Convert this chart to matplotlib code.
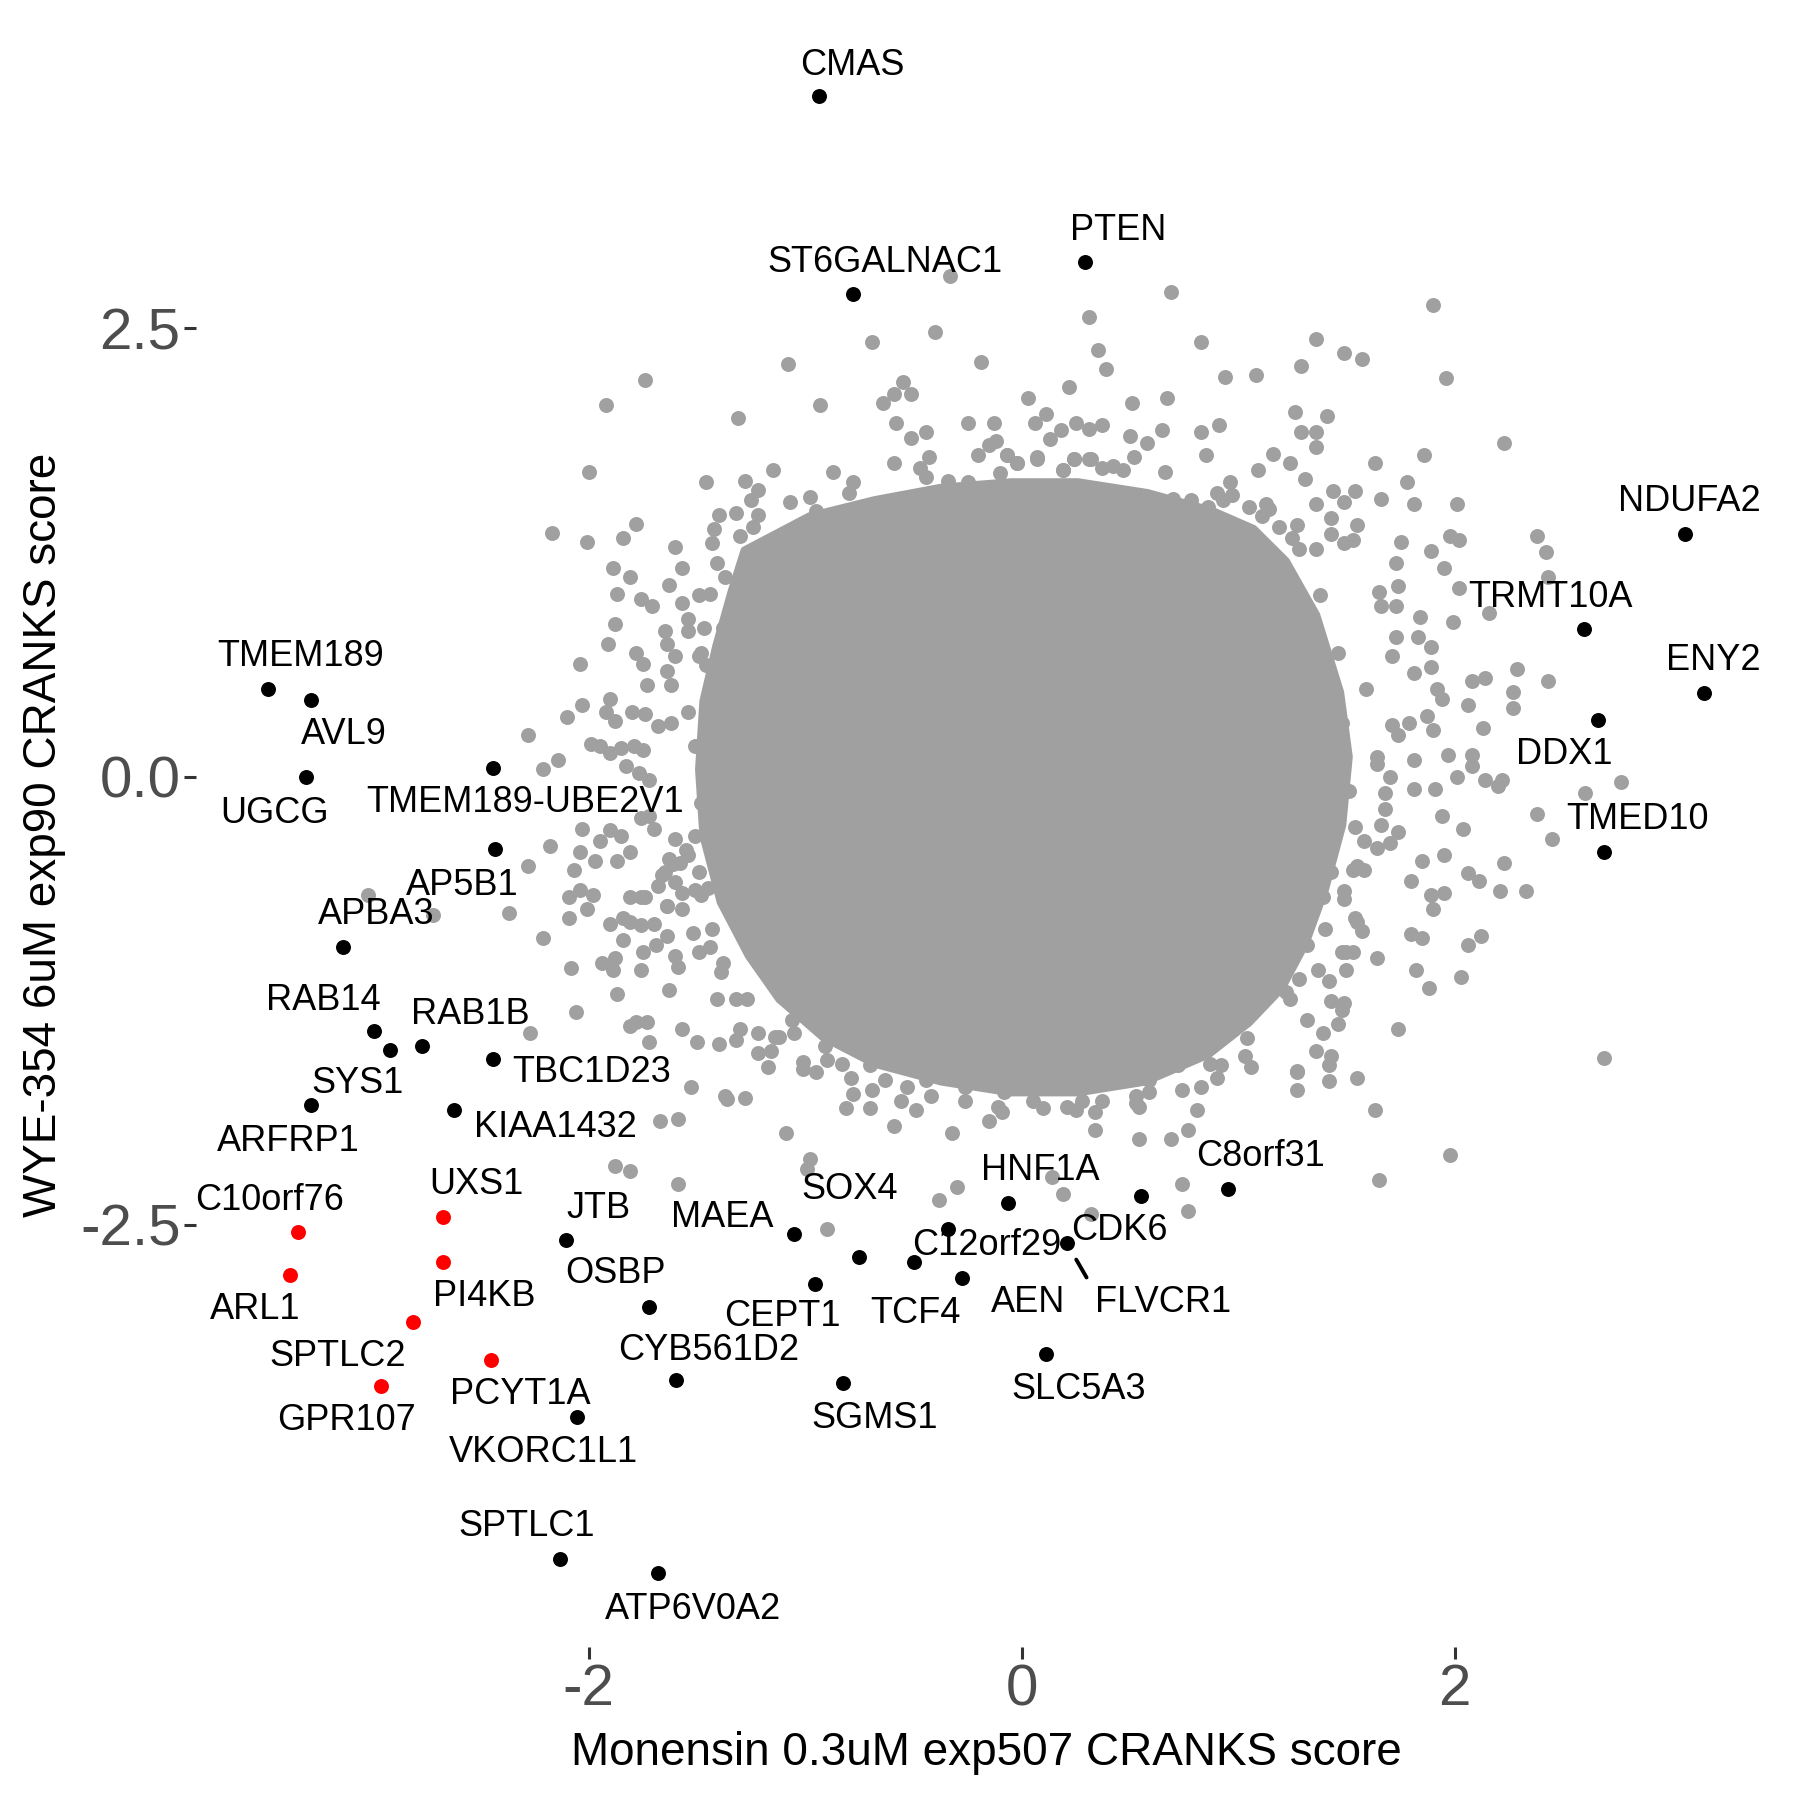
import matplotlib
matplotlib.use("Agg")
import matplotlib.pyplot as plt
from matplotlib.patches import Polygon
import numpy as np

plt.rcParams['font.family'] = ['Liberation Sans', 'DejaVu Sans']

# ---------------- data ----------------
# outline of the solid (fully over-plotted) core of the background cloud, data units
core_outline = [(-1.28, 1.26), (-0.98, 1.45), (-0.68, 1.54), (-0.37, 1.61), (-0.05, 1.64), (0.26, 1.64),
                (0.58, 1.58), (0.88, 1.48), (1.07, 1.38), (1.22, 1.20), (1.36, 0.90), (1.47, 0.47),
                (1.51, 0.11), (1.48, -0.27), (1.40, -0.63), (1.31, -0.93), (1.20, -1.18), (1.05, -1.37),
                (0.86, -1.55), (0.57, -1.70), (0.26, -1.76), (-0.05, -1.76), (-0.37, -1.70),
                (-0.68, -1.60), (-0.92, -1.45), (-1.12, -1.24), (-1.26, -1.00), (-1.39, -0.70),
                (-1.47, -0.33), (-1.49, 0.04), (-1.47, 0.42), (-1.41, 0.73), (-1.34, 1.03)]

# individually visible background genes (x, y)
bg_points = [
    (-0.33, 2.79), (0.69, 2.70), (-3.02, -0.66), (-2.72, -0.77), (0.14, -2.23), (0.32, -2.44),
    (0.25, -1.86), (0.54, -1.84),
    # upper left
    (0.31, 2.56), (-0.40, 2.48), (-0.69, 2.42), (-1.08, 2.30), (-0.19, 2.31), (-1.74, 2.21),
    (-1.92, 2.07), (-0.93, 2.07), (-1.31, 2.00), (0.22, 2.17), (-0.64, 2.08), (-0.59, 2.13),
    (-0.55, 2.20), (-0.51, 2.13), (-0.58, 1.97), (-0.51, 1.89), (-0.44, 1.92), (-0.25, 1.97),
    (-0.13, 1.97), (0.03, 2.11), (0.06, 1.97), (0.11, 2.02), (0.18, 1.93), (0.13, 1.88),
    (0.25, 1.97), (0.31, 1.94), (-2.00, 1.70), (-1.46, 1.64), (-1.28, 1.65), (-1.15, 1.71),
    (-0.87, 1.70), (-0.78, 1.64), (-0.80, 1.58), (-0.98, 1.56), (-0.95, 1.48), (-1.07, 1.53),
    (-0.59, 1.75), (-0.47, 1.72), (-0.43, 1.78), (-0.44, 1.67), (-0.34, 1.65), (-0.25, 1.64),
    (-0.20, 1.79), (-0.15, 1.85), (-0.12, 1.87), (-0.07, 1.79), (-0.10, 1.69), (-0.02, 1.75),
    (0.07, 1.77), (0.24, 1.77), (0.32, 1.77), (0.19, 1.71), (-2.17, 1.36), (-2.01, 1.31),
    (-1.84, 1.33), (-1.78, 1.41), (-1.60, 1.28), (-1.57, 1.16), (-1.89, 1.16), (-1.81, 1.11),
    (-1.87, 1.02), (-1.63, 1.07), (-1.76, 0.99), (-1.71, 0.95), (-1.88, 0.85), (-1.91, 0.74),
    (-1.78, 0.69), (-1.75, 0.63), (-2.04, 0.63), (-1.73, 0.51), (-1.62, 0.51), (-1.65, 0.81),
    (-1.64, 0.74), (-1.43, 1.30), (-1.40, 1.46), (-1.42, 1.38), (-1.32, 1.47), (-1.22, 1.60),
    (-1.25, 1.54), (-1.30, 1.34), (-1.24, 1.39), (-1.22, 1.46), (-1.41, 1.19), (-1.37, 1.11),
    (-1.57, 0.97), (-1.49, 1.01), (-1.44, 1.02), (-1.54, 0.88), (-1.47, 0.83), (-1.38, 0.83),
    (-1.34, 0.81), (-1.46, 0.62), (-1.49, 0.67), (-1.60, 0.67), (-1.64, 0.59), (-2.28, 0.23),
    (-2.14, 0.09), (-2.21, 0.04), (-2.10, 0.33), (-2.03, 0.40), (-1.90, 0.43), (-1.92, 0.36),
    (-1.88, 0.31), (-1.80, 0.36), (-1.74, 0.35), (-1.68, 0.28), (-1.62, 0.30), (-1.99, 0.18),
    (-1.95, 0.17), (-1.90, 0.13), (-1.85, 0.16), (-1.79, 0.17), (-1.75, 0.15), (-1.83, 0.06),
    (-1.77, 0.02), (-1.72, -0.02), (-2.18, -0.39), (-2.28, -0.50), (-2.07, -0.52), (-2.04, -0.42),
    (-1.97, -0.47), (-1.87, -0.47), (-1.81, -0.42), (-1.95, -0.36), (-1.90, -0.30), (-1.85, -0.33),
    (-2.03, -0.29), (-2.09, -0.67), (-2.01, -0.74), (-2.37, -0.76), (-2.21, -0.90), (-1.90, -0.82),
    (-1.84, -0.79), (-1.76, -0.83), (-1.70, -0.82), (-1.81, -0.67), (-1.76, -0.67), (-1.64, -0.72),
    (-1.60, -0.59), (-1.66, -0.55), (-1.61, -0.49), (-1.57, -0.65), (-1.51, -0.63), (-1.45, -0.62),
    # upper right
    (0.35, 2.38), (0.39, 2.27), (0.37, 1.96), (0.51, 2.08), (0.67, 2.11), (0.50, 1.90), (0.58, 1.86),
    (0.65, 1.93), (0.83, 2.42), (0.94, 2.23), (1.08, 2.24), (1.29, 2.29), (1.36, 2.44), (1.49, 2.36),
    (1.57, 2.33), (1.96, 2.22), (1.90, 2.63), (1.26, 2.03), (1.41, 2.01), (1.29, 1.92), (1.36, 1.92),
    (1.36, 1.84), (0.83, 1.92), (0.91, 1.96), (0.85, 1.79), (1.16, 1.80), (1.24, 1.75), (1.31, 1.66),
    (1.09, 1.71), (0.96, 1.64), (1.63, 1.75), (1.86, 1.79), (2.23, 1.86), (1.78, 1.64), (1.81, 1.52),
    (2.01, 1.52), (1.66, 1.55), (1.49, 1.53), (1.54, 1.59), (1.44, 1.59), (1.55, 1.40), (1.27, 1.40),
    (1.19, 1.39), (1.98, 1.34), (2.02, 1.32), (1.75, 1.31), (1.89, 1.26), (1.73, 1.19), (1.95, 1.16),
    (2.02, 1.05), (1.65, 1.03), (1.74, 1.06), (1.73, 0.95), (1.66, 0.95), (1.84, 0.89), (1.99, 0.86),
    (2.16, 0.91), (2.38, 1.34), (2.42, 1.25), (2.43, 1.11), (1.73, 0.78), (1.83, 0.78), (1.89, 0.72),
    (1.71, 0.67), (1.89, 0.61), (1.81, 0.58), (2.29, 0.60), (2.43, 0.53), (2.27, 0.47), (2.27, 0.38),
    (2.08, 0.53), (2.14, 0.55), (2.06, 0.40), (2.13, 0.27), (1.92, 0.49), (1.94, 0.43), (1.87, 0.34),
    (1.90, 0.26), (1.79, 0.30), (1.71, 0.29), (1.97, 0.12), (2.08, 0.12), (2.01, 0.00), (2.14, -0.02),
    (2.20, -0.05), (2.22, -0.02), (2.08, 0.06), (2.60, -0.09), (2.77, -0.03), (2.38, -0.21),
    (2.45, -0.35), (1.94, -0.22), (2.04, -0.29), (1.68, -0.18), (2.23, -0.48), (2.06, -0.54),
    (2.11, -0.58), (2.21, -0.64), (2.33, -0.64), (1.95, -0.44), (1.80, -0.58), (1.89, -0.66),
    (1.95, -0.65), (1.90, -0.74), (1.85, -0.47), (1.66, -0.27), (1.80, -0.88), (1.85, -0.90),
    (2.06, -0.94), (2.12, -0.89), (1.68, -0.09), (1.64, 0.07), (1.70, 0.00), (1.81, -0.07),
    (1.91, -0.07), (1.74, 0.23), (1.81, 0.09),
    (-0.07, 1.79), (-0.02, 1.75), (0.07, 1.78), (0.19, 1.71), (0.24, 1.77), (0.31, 1.77), (0.37, 1.72),
    (0.42, 1.73), (0.47, 1.71), (0.52, 1.78), (0.66, 1.70), (0.67, 1.50), (0.70, 1.55), (0.78, 1.54),
    (0.86, 1.50), (0.93, 1.54), (0.97, 1.57), (1.05, 1.50), (1.13, 1.52), (1.14, 1.49), (1.28, 1.27),
    (1.36, 1.27), (1.43, 1.44), (1.43, 1.35), (1.49, 1.30), (1.53, 1.32),
    # lower left
    (-2.08, -1.07), (-2.06, -1.31), (-2.27, -1.43), (-1.76, -0.23), (-1.98, -0.66), (-2.04, -0.63),
    (-2.09, -0.79), (-1.81, -0.81), (-1.84, -0.91), (-1.75, -0.98), (-1.69, -0.94), (-1.64, -0.89),
    (-1.76, -1.08), (-1.63, -1.19), (-1.87, -1.21), (-1.94, -1.04), (-1.88, -1.01), (-1.89, -1.08),
    (-1.60, -1.00), (-1.59, -1.06), (-1.81, -1.39), (-1.78, -1.37), (-1.73, -1.37), (-1.72, -1.48),
    (-1.57, -1.41), (-1.50, -1.48), (-1.40, -1.49), (-1.32, -1.47), (-1.30, -1.41), (-1.22, -1.54),
    (-1.16, -1.53), (-1.14, -1.45), (-1.12, -1.45), (-1.01, -1.63), (-0.95, -1.65), (-0.90, -1.58),
    (-0.83, -1.60), (-0.78, -1.77), (-0.81, -1.85), (-0.70, -1.85), (-0.59, -1.95), (-0.49, -1.86),
    (-0.32, -1.99), (-0.15, -1.92), (-0.09, -1.87), (-0.07, -1.74), (0.10, -1.85), (0.27, -1.73),
    (0.34, -1.87), (-1.09, -1.99), (-0.98, -2.13), (-0.99, -2.19), (-0.30, -2.29), (-0.38, -2.36),
    (0.19, -2.33), (-0.90, -2.52), (-1.53, -1.73), (-1.36, -1.80), (-1.28, -1.79), (-1.67, -1.92),
    (-1.59, -1.91), (-1.88, -2.17), (-1.81, -2.20), (-1.59, -2.27), (-0.42, -1.60), (-0.44, -1.69),
    (-0.53, -1.73), (-0.63, -1.69), (-0.70, -1.61), (-0.72, -1.54), (-0.91, -1.50), (-1.05, -1.43),
    (-1.41, -1.24), (-1.32, -1.24), (-1.39, -1.09), (-1.49, -0.98), (-1.52, -0.87), (-1.44, -0.95),
    (-1.57, -0.74), (-1.64, -0.72), (-1.68, -0.61), (-1.74, -0.67), (-1.63, -0.46), (-1.58, -0.48),
    (-1.65, -0.53), (-1.49, -0.53), (-1.55, -0.41), (-1.51, -0.33), (-1.45, -0.25), (-1.60, -0.35),
    (-1.70, -0.29), (-1.72, -0.22), (0.14, -1.67), (-0.09, -1.67), (-0.25, -1.61), (-0.26, -1.73),
    (0.00, -1.61), (0.20, -1.58),
    # lower right
    (2.69, -1.57), (1.98, -2.11), (1.65, -2.25), (1.63, -1.86), (0.74, -2.27), (1.74, -1.41),
    (1.55, -1.68), (1.42, -1.70), (1.42, -1.61), (1.43, -1.56), (1.36, -1.53), (1.27, -1.64),
    (1.27, -1.75), (1.46, -1.38), (1.39, -1.43), (1.82, -1.08), (1.88, -1.18), (2.03, -1.12),
    (1.64, -1.01), (1.50, -0.98), (1.50, -1.08), (1.49, -1.26), (1.43, -1.25), (1.42, -1.14),
    (1.37, -1.08), (1.28, -1.13), (1.22, -1.20), (1.24, -1.24), (1.18, -1.10), (1.12, -1.20),
    (1.07, -1.20), (1.04, -1.46), (1.03, -1.56), (0.92, -1.61), (0.87, -1.60), (0.83, -1.73),
    (0.81, -1.86), (0.77, -1.97), (0.69, -2.02), (0.54, -2.02), (0.34, -1.97), (0.28, -1.81),
    (0.77, -2.42), (0.59, -1.76), (0.53, -1.82), (0.52, -1.68), (0.59, -1.69), (0.72, -1.61),
    (0.80, -1.54), (0.72, -1.48), (-0.01, -1.64), (0.04, -1.66), (0.12, -1.73), (-0.08, -1.76),
    (1.70, -0.37), (1.74, -0.31), (1.58, -0.36), (1.55, -0.50), (1.53, -0.52), (1.58, -0.52),
    (1.49, -0.68), (1.49, -0.64), (1.39, -0.67), (1.36, -0.65), (1.55, -0.81), (1.57, -0.86),
    (1.53, -0.98), (1.40, -0.85), (1.32, -0.94), (1.22, -0.87), (1.14, -0.83), (0.95, -1.14),
    (1.01, -1.20), (0.91, -1.30), (0.97, -1.35), (0.82, -1.35),
    # points on the ragged rim of the core
    (-0.79, -1.68), (-0.69, -1.75), (-0.56, -1.81), (-0.42, -1.78), (-0.26, -1.81), (-0.11, -1.84),
    (0.05, -1.81), (0.21, -1.84), (0.37, -1.81), (0.53, -1.78), (0.74, -1.75), (0.90, -1.68),
    (1.06, -1.62), (1.27, -1.65), (1.59, 0.49), (1.64, 0.11), (1.54, -0.28), (1.64, -0.40),
    (1.54, -0.79), (1.48, -0.98), (1.48, -1.30), (1.32, -1.36), (1.43, -0.53), (1.51, -0.08),
    (1.48, 0.30), (1.46, 0.69), (1.38, 1.01), (1.25, 1.33), (1.11, 1.45), (0.90, 1.58), (1.36, 1.52),
    (-1.54, 0.81), (-1.48, 0.69), (-1.54, 0.36), (-1.51, 0.17), (-1.48, -0.15), (-1.54, -0.44),
    (-1.48, -0.66), (-1.43, -0.85), (-1.38, -1.04), (-1.27, -1.24), (-1.22, -1.43), (-1.06, -1.36),
    (-1.01, -1.59), (-1.17, -1.62), (-1.37, -1.78),
]

# highlighted genes (black)
hit_genes = ['CMAS', 'ST6GALNAC1', 'PTEN', 'NDUFA2', 'TRMT10A', 'ENY2', 'DDX1', 'TMED10',
             'TMEM189', 'AVL9', 'UGCG', 'TMEM189-UBE2V1', 'AP5B1', 'APBA3', 'RAB14', 'SYS1',
             'RAB1B', 'TBC1D23', 'ARFRP1', 'KIAA1432', 'JTB', 'MAEA', 'SOX4', 'C12orf29',
             'TCF4', 'AEN', 'HNF1A', 'CDK6', 'FLVCR1', 'C8orf31', 'CEPT1', 'OSBP', 'CYB561D2',
             'SGMS1', 'SLC5A3', 'VKORC1L1', 'SPTLC1', 'ATP6V0A2']
hit_x = [-0.938, -0.779, 0.291, 3.062, 2.596, 3.152, 2.660, 2.691,
         -3.481, -3.285, -3.306, -2.442, -2.432, -3.136, -2.993, -2.919,
         -2.771, -2.442, -3.285, -2.623, -2.103, -1.054, -0.752, -0.339,
         -0.498, -0.275, -0.064, 0.551, 0.207, 0.954, -0.954, -1.722, -1.595,
         -0.826, 0.111, -2.056, -2.135, -1.679]
hit_y = [3.796, 2.689, 2.868, 1.351, 0.820, 0.467, 0.314, -0.423,
         0.487, 0.429, 0.000, 0.045, -0.403, -0.948, -1.421, -1.524,
         -1.504, -1.575, -1.831, -1.857, -2.586, -2.548, -2.676, -2.522,
         -2.708, -2.798, -2.375, -2.337, -2.599, -2.298, -2.830, -2.958, -3.367,
         -3.380, -3.220, -3.572, -4.360, -4.443]

# highlighted genes (red)
red_genes = ['C10orf76', 'ARL1', 'UXS1', 'PI4KB', 'SPTLC2', 'GPR107', 'PCYT1A']
red_x = [-3.343, -3.380, -2.675, -2.675, -2.813, -2.962, -2.453]
red_y = [-2.542, -2.779, -2.458, -2.708, -3.041, -3.400, -3.252]

# label offsets (points) from each labelled dot
label_offset = {
    'CMAS': (12.0, 11.0), 'ST6GALNAC1': (11.6, 11.6), 'PTEN': (12.0, 11.4),
    'NDUFA2': (1.7, 11.6), 'TRMT10A': (-12.0, 11.6), 'ENY2': (3.3, 11.6),
    'DDX1': (-12.0, -12.4), 'TMED10': (12.0, 12.0), 'TMEM189': (11.6, 11.6),
    'AVL9': (12.0, -12.4), 'UGCG': (-11.2, -13.2), 'TMEM189-UBE2V1': (11.6, -12.4),
    'AP5B1': (-12.0, -13.2), 'APBA3': (12.0, 11.6), 'RAB14': (-18.2, 11.2),
    'RAB1B': (17.4, 11.6), 'SYS1': (-11.6, -12.0), 'TBC1D23': (35.5, -5.0),
    'ARFRP1': (-7.9, -13.2), 'KIAA1432': (36.4, -6.6), 'C10orf76': (-10.3, 11.6),
    'UXS1': (12.0, 12.0), 'JTB': (11.6, 11.6), 'MAEA': (-25.6, 5.8), 'SOX4': (-3.3, 24.0),
    'HNF1A': (11.6, 11.6), 'C8orf31': (11.6, 11.6), 'CDK6': (-7.9, -12.4),
    'C12orf29': (14.0, -5.8), 'FLVCR1': (34.7, -21.5), 'AEN': (23.6, -8.7),
    'TCF4': (0.4, -18.6), 'CEPT1': (-12.0, -11.6), 'OSBP': (-12.0, 12.0),
    'ARL1': (-12.4, -12.4), 'PI4KB': (14.9, -12.4), 'SPTLC2': (-26.9, -12.4),
    'CYB561D2': (11.6, 10.8), 'PCYT1A': (10.7, -12.4), 'GPR107': (-12.4, -12.4),
    'SGMS1': (11.6, -12.8), 'SLC5A3': (12.0, -12.8), 'VKORC1L1': (-12.0, -12.8),
    'SPTLC1': (-12.0, 11.6), 'ATP6V0A2': (12.4, -12.8),
}
segment_labels = {'FLVCR1'}

x_ticks = [-2, 0, 2]
y_ticks = [-2.5, 0.0, 2.5]
x_title = 'Monensin 0.3uM exp507 CRANKS score'
y_title = 'WYE-354 6uM exp90 CRANKS score'

# ---------------- plot ----------------
GREY = '#A0A0A0'
bg_x = [p[0] for p in bg_points]
bg_y = [p[1] for p in bg_points]

fig = plt.figure(figsize=(9, 9), dpi=200)
ax = fig.add_axes([0.1091, 0.0848, 0.8775, 0.9031])

ax.add_patch(Polygon(np.array(core_outline), closed=True,
                     facecolor=GREY, edgecolor=GREY, linewidth=3, joinstyle='round', zorder=1))
ax.scatter(bg_x, bg_y, s=29, c=GREY, linewidths=0, zorder=2)
ax.scatter(hit_x, hit_y, s=29, c='black', linewidths=0, zorder=3)
ax.scatter(red_x, red_y, s=29, c='#FF0000', linewidths=0, zorder=3)

for names, xs, ys in [(hit_genes, hit_x, hit_y), (red_genes, red_x, red_y)]:
    for n, x, y in zip(names, xs, ys):
        dx, dy = label_offset[n]
        kw = {}
        if n in segment_labels:
            kw['arrowprops'] = dict(arrowstyle='-', color='black', lw=1.4,
                                    shrinkA=2, shrinkB=7, relpos=(0.0, 0.8))
        ax.annotate(n, (x, y), xytext=(dx, dy), textcoords='offset points',
                    ha='center', va='center', fontsize=13, color='black', zorder=4, **kw)

allx = bg_x + hit_x + red_x
ally = bg_y + hit_y + red_y
rx = max(allx) - min(allx)
ry = max(ally) - min(ally)
ax.set_xlim(min(allx) - 0.05 * rx, max(allx) + 0.05 * rx)
ax.set_ylim(min(ally) - 0.05 * ry, max(ally) + 0.05 * ry)

ax.set_xticks(x_ticks)
ax.set_xticklabels([str(t) for t in x_ticks])
ax.set_yticks(y_ticks)
ax.set_yticklabels([f'{t:.1f}' for t in y_ticks])
ax.tick_params(axis='both', direction='out', length=4.2, width=1.1, color='#333333',
               labelcolor='#4D4D4D', labelsize=21, pad=1.5)
for sp in ax.spines.values():
    sp.set_visible(False)
ax.set_facecolor('white')

ax.set_xlabel(x_title, fontsize=16.5, color='black')
ax.set_ylabel(y_title, fontsize=16.5, color='black')
ax.xaxis.set_label_coords(0.5, -0.065)
ax.xaxis.label.set_va('center')
ax.yaxis.set_label_coords(-0.0967, 0.5)
ax.yaxis.label.set_va('center')

fig.savefig('out.png', dpi=200, facecolor='white')
